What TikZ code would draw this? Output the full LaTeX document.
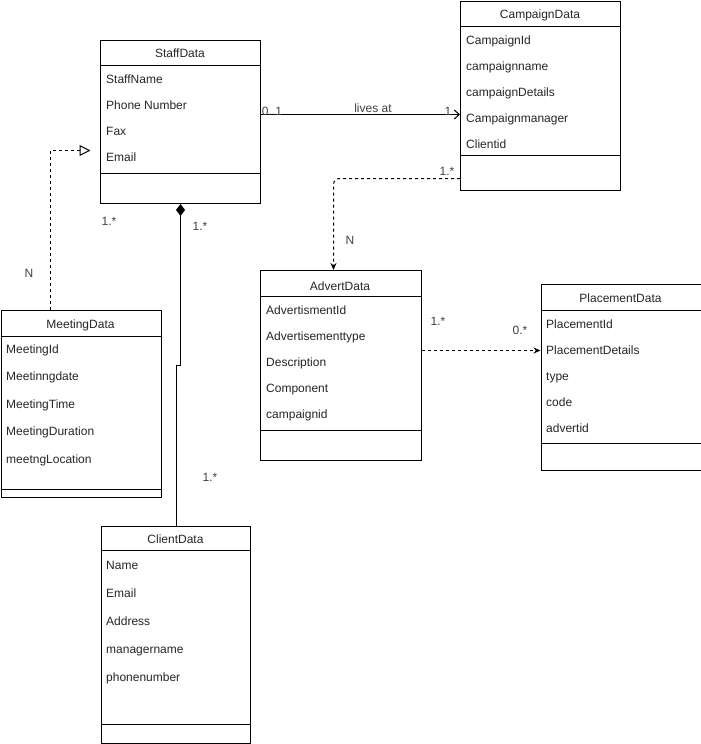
\documentclass[tikz,border=0pt]{standalone}
\usepackage{fontspec}
\setmainfont{Liberation Sans}
\usetikzlibrary{arrows.meta,calc}
\begin{document}
\begin{tikzpicture}[x=1pt,y=-1pt,
  cls/.style={draw,line width=1pt,rectangle,inner sep=0pt,anchor=north west,fill=white},
  hdr/.style={font=\fontsize{12}{14}\selectfont,inner sep=0pt,text height=8.6pt,text depth=0pt,text=black!85},
  attr/.style={hdr,anchor=west},
  lbl/.style={font=\fontsize{12}{14}\selectfont,inner sep=0pt,text height=8.6pt,text depth=0pt,text=black!75},
  conn/.style={line width=1pt},
  dsh/.style={conn,dash pattern=on 3pt off 3pt}]
\useasboundingbox[fill=white] (0,0) rectangle (701,744);

% ---- classes ----
\node[cls,minimum width=160pt,minimum height=163pt] (staff) at (100,40) {};
\node[cls,minimum width=160pt,minimum height=189pt] (camp) at (460,1) {};
\node[cls,minimum width=160.5pt,minimum height=190pt] (advert) at (260,270) {};
\node[cls,minimum width=160pt,minimum height=186pt] (place) at (540.5,284) {};
\node[cls,minimum width=160pt,minimum height=187pt] (meet) at (0.5,310) {};
\node[cls,minimum width=149pt,minimum height=217.5pt] (client) at (101,525.5) {};

% dividers
\foreach \n/\a/\b in {staff/25/133, camp/25/154, advert/26/160, place/26/159, meet/26/179, client/25/198.5}{
  \draw[conn] ($(\n.north west)+(0,\a)$) -- ($(\n.north east)+(0,\a)$);
  \draw[conn] ($(\n.north west)+(0,\b)$) -- ($(\n.north east)+(0,\b)$);
}

% headers
\node[hdr] (staffh) at (180,53) {StaffData};
\node[hdr] (camph) at (540,14) {CampaignData};
\node[hdr] (adverth) at (340,286) {AdvertData};
\node[hdr] (placeh) at (620.5,298) {PlacementData};
\node[hdr] (meeth) at (80.5,324) {MeetingData};
\node[hdr] (clienth) at (175.5,539) {ClientData};

% attributes
\node[attr] (s1) at (106,79) {StaffName};
\node[attr] (s2) at (106,105) {Phone Number};
\node[attr] (s3) at (106,131) {Fax};
\node[attr] (s4) at (106,157) {Email};

\node[attr] (c1) at (466,40) {CampaignId};
\node[attr] (c2) at (466,66) {campaignname};
\node[attr] (c3) at (466,92) {campaignDetails};
\node[attr] (c4) at (466,118) {Campaignmanager};
\node[attr] (c5) at (466,144) {Clientid};

\node[attr] (a1) at (266,310) {AdvertismentId};
\node[attr] (a2) at (266,336) {Advertisementtype};
\node[attr] (a3) at (266,362) {Description};
\node[attr] (a4) at (266,388) {Component};
\node[attr] (a5) at (266,414) {campaignid};

\node[attr] (p1) at (546,324) {PlacementId};
\node[attr] (p2) at (546,350) {PlacementDetails};
\node[attr] (p3) at (546,376) {type};
\node[attr] (p4) at (546,402) {code};
\node[attr] (p5) at (546,428) {advertid};

\node[attr] (m1) at (6,349) {MeetingId};
\node[attr] (m2) at (6,376) {Meetinngdate};
\node[attr] (m3) at (6,404) {MeetingTime};
\node[attr] (m4) at (6,431) {MeetingDuration};
\node[attr] (m5) at (6,459) {meetngLocation};

\node[attr] (k1) at (106,565) {Name};
\node[attr] (k2) at (106,593) {Email};
\node[attr] (k3) at (106,621) {Address};
\node[attr] (k4) at (106,649) {managername};
\node[attr] (k5) at (106,677) {phonenumber};

% ---- connectors ----
\draw[conn,-{Straight Barb[length=5pt,width=9pt]}] ([yshift=7.5pt]staff.east) -- ([yshift=-18.5pt]camp.west);
\draw[dsh,rounded corners=6pt,-{Stealth[length=7pt,width=6pt]}] ([yshift=-82.5pt]camp.west) -| ([xshift=-7.25pt]advert.north);
\draw[dsh,-{Stealth[length=7pt,width=6pt]}] ([yshift=15pt]advert.east) -- ([yshift=27pt]place.west);
\draw[dsh,-{Triangle[open,length=11pt,width=11pt,line width=1pt]}] ([xshift=-30.5pt]meet.north) |- ([xshift=-9.5pt,yshift=-28.5pt]staff.west);
\draw[conn,{Diamond[length=12pt,width=9pt]}-] (staff.south) -- ++(0,161) -| (client.north);

% ---- labels ----
\node[lbl] (l1) at (272,111) {0..1};
\node[lbl] (l2) at (373,108) {lives at};
\node[lbl] (l3) at (448,111) {1};
\node[lbl] (l4) at (447,171) {1.*};
\node[lbl] (l5) at (350,240) {N};
\node[lbl] (l6) at (438,321) {1.*};
\node[lbl] (l7) at (520,330) {0.*};
\node[lbl] (l8) at (109,221) {1.*};
\node[lbl] (l9) at (200,226) {1.*};
\node[lbl] (l10) at (29,273) {N};
\node[lbl] (l11) at (210,477) {1.*};
\end{tikzpicture}
\end{document}
